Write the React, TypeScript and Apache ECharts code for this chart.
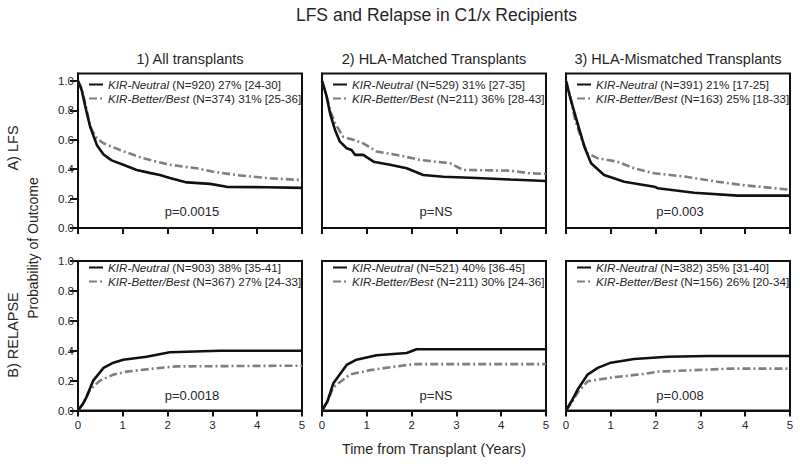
import React, { useEffect, useRef } from 'react';
import * as echarts from 'echarts';

const mainTitle = 'LFS and Relapse in C1/x Recipients';
const panelTitles = ['1) All transplants', '2) HLA-Matched Transplants', '3) HLA-Mismatched Transplants'];
const rowLabels = ['A) LFS', 'B) RELAPSE'];
const yAxisTitle = 'Probability of Outcome';
const xAxisTitle = 'Time from Transplant (Years)';
const xTicks = [0, 1, 2, 3, 4, 5];
const yTicks = [0, 0.2, 0.4, 0.6, 0.8, 1.0];

const groupNames = ['KIR-Neutral', 'KIR-Better/Best'];

// legend details: (N) estimate [CI]
const lfsNeutralInfo = ['(N=920) 27% [24-30]', '(N=529) 31% [27-35]', '(N=391) 21% [17-25]'];
const lfsBetterInfo = ['(N=374) 31% [25-36]', '(N=211) 36% [28-43]', '(N=163) 25% [18-33]'];
const relNeutralInfo = ['(N=903) 38% [35-41]', '(N=521) 40% [36-45]', '(N=382) 35% [31-40]'];
const relBetterInfo = ['(N=367) 27% [24-33]', '(N=211) 30% [24-36]', '(N=156) 26% [20-34]'];
const lfsP = ['p=0.0015', 'p=NS', 'p=0.003'];
const relP = ['p=0.0018', 'p=NS', 'p=0.008'];

const lfsNeutral = [
  [[0, 1], [0.08, 0.94], [0.16, 0.83], [0.23, 0.74], [0.27, 0.69], [0.42, 0.565], [0.57, 0.5], [0.75, 0.46], [1.01, 0.43], [1.31, 0.395], [1.6, 0.375], [1.83, 0.36], [2.05, 0.34], [2.43, 0.31], [2.95, 0.3], [3.32, 0.28], [4.2, 0.277], [5, 0.273]],
  [[0, 1], [0.1, 0.9], [0.18, 0.78], [0.29, 0.667], [0.4, 0.587], [0.55, 0.542], [0.66, 0.53], [0.74, 0.497], [0.92, 0.497], [1.15, 0.451], [1.52, 0.43], [1.89, 0.406], [2.26, 0.36], [2.71, 0.349], [3.45, 0.34], [4.2, 0.33], [5, 0.32]],
  [[0, 1], [0.1, 0.88], [0.26, 0.71], [0.41, 0.553], [0.56, 0.44], [0.85, 0.36], [1.3, 0.315], [1.97, 0.281], [2.05, 0.27], [2.86, 0.24], [3.83, 0.22], [5, 0.22]],
];
const lfsBetter = [
  [[0, 1], [0.08, 0.95], [0.16, 0.85], [0.23, 0.75], [0.3, 0.67], [0.42, 0.61], [0.57, 0.576], [0.94, 0.53], [1.46, 0.474], [2.05, 0.43], [2.65, 0.406], [3.02, 0.383], [3.54, 0.36], [4.29, 0.338], [5, 0.326]],
  [[0, 1], [0.1, 0.9], [0.18, 0.8], [0.29, 0.712], [0.475, 0.62], [0.7, 0.6], [0.92, 0.576], [1.22, 0.52], [1.67, 0.497], [2.19, 0.463], [2.86, 0.44], [3.15, 0.395], [4.2, 0.39], [4.64, 0.372], [5, 0.368]],
  [[0, 1], [0.1, 0.89], [0.2, 0.74], [0.33, 0.62], [0.48, 0.508], [0.71, 0.474], [1.15, 0.451], [1.52, 0.406], [1.97, 0.372], [2.64, 0.35], [3.38, 0.315], [3.98, 0.29], [4.35, 0.28], [5, 0.26]],
];
const relNeutral = [
  [[0, 0], [0.1, 0.04], [0.19, 0.09], [0.34, 0.2], [0.57, 0.285], [0.79, 0.32], [1.01, 0.34], [1.53, 0.36], [2.05, 0.39], [3.16, 0.4], [5, 0.4]],
  [[0, 0], [0.12, 0.06], [0.25, 0.18], [0.55, 0.305], [0.77, 0.34], [1.22, 0.37], [1.89, 0.385], [2.11, 0.41], [3.15, 0.41], [5, 0.41]],
  [[0, 0], [0.12, 0.06], [0.26, 0.14], [0.48, 0.24], [0.71, 0.285], [1.0, 0.32], [1.52, 0.345], [2.27, 0.36], [3.15, 0.365], [5, 0.365]],
];
const relBetter = [
  [[0, 0], [0.12, 0.05], [0.27, 0.14], [0.49, 0.2], [0.79, 0.24], [1.09, 0.26], [1.68, 0.28], [2.2, 0.295], [5, 0.3]],
  [[0, 0], [0.12, 0.06], [0.25, 0.155], [0.62, 0.24], [1.07, 0.27], [1.67, 0.295], [2.04, 0.31], [5, 0.31]],
  [[0, 0], [0.12, 0.05], [0.26, 0.12], [0.48, 0.195], [1.0, 0.22], [1.75, 0.245], [2.05, 0.26], [3.68, 0.28], [5, 0.28]],
];

const FONT = '"Liberation Sans", Arial, Helvetica, sans-serif';
const TEXT = '#262626';
const LEG_FS = 11.7;

export default function App() {
  const ref = useRef<HTMLDivElement>(null);

  useEffect(() => {
    document.body.style.margin = '0';
    if (!ref.current) return;
    const chart = echarts.init(ref.current, undefined, { renderer: 'svg' });

    const lefts = [78, 322, 566];
    const W = 224;
    const rows = [
      { top: 73.6, height: 154.4, max: 1.05, legendTop: 78.5 },
      { top: 261, height: 149.5, max: 1.0, legendTop: 261.5 },
    ];

    const grids: any[] = [];
    const xAxes: any[] = [];
    const yAxes: any[] = [];
    const series: any[] = [];
    const legends: any[] = [];
    const labelMap: Record<string, [string, string]> = {};

    rows.forEach((row, r) => {
      lefts.forEach((left, c) => {
        const idx = r * 3 + c;
        grids.push({
          left, top: row.top, width: W, height: row.height,
          show: true, borderColor: '#111', borderWidth: 2, backgroundColor: 'transparent',
        });
        xAxes.push({
          type: 'value', gridIndex: idx, min: 0, max: 5, interval: 1,
          axisLine: { show: true, lineStyle: { color: '#111', width: 2 } },
          axisTick: { show: true, inside: false, length: 6, lineStyle: { color: '#111', width: 2 } },
          axisLabel: {
            show: r === 1, margin: 8, color: TEXT, fontSize: 11.5, fontFamily: FONT,
            customValues: xTicks,
          },
          splitLine: { show: false },
        });
        yAxes.push({
          type: 'value', gridIndex: idx, min: 0, max: row.max,
          axisLine: { show: true, lineStyle: { color: '#111', width: 2 } },
          axisTick: { show: c === 0, length: 8, lineStyle: { color: '#111', width: 2 }, customValues: yTicks },
          axisLabel: {
            show: c === 0, margin: 4, color: TEXT, fontSize: 11.5, fontFamily: FONT,
            customValues: yTicks, formatter: (v: number) => v.toFixed(1),
          },
          splitLine: { show: false },
        });
        const nData = r === 0 ? lfsNeutral[c] : relNeutral[c];
        const bData = r === 0 ? lfsBetter[c] : relBetter[c];
        const nName = `s${idx}n`;
        const bName = `s${idx}b`;
        labelMap[nName] = [groupNames[0], r === 0 ? lfsNeutralInfo[c] : relNeutralInfo[c]];
        labelMap[bName] = [groupNames[1], r === 0 ? lfsBetterInfo[c] : relBetterInfo[c]];
        series.push({
          name: nName, type: 'line', xAxisIndex: idx, yAxisIndex: idx,
          data: nData, symbol: 'none', showSymbol: false, z: 3,
          lineStyle: { color: '#111', width: 2.6, type: 'solid' },
          itemStyle: { color: '#111' },
        });
        series.push({
          name: bName, type: 'line', xAxisIndex: idx, yAxisIndex: idx,
          data: bData, symbol: 'none', showSymbol: false, z: 2,
          lineStyle: { color: '#7f7f7f', width: 2.6, type: [8, 3, 2, 3] },
          itemStyle: { color: '#7f7f7f' },
        });
        legends.push({
          data: [nName, bName],
          orient: 'vertical',
          left: left + 10,
          top: row.legendTop,
          padding: 0,
          itemGap: 2,
          itemWidth: 14,
          itemHeight: 12,
          selectedMode: false,
          itemStyle: { color: 'transparent', borderWidth: 0, opacity: 0 },
          formatter: (name: string) => `{i|${labelMap[name][0]}}{n| ${labelMap[name][1]}}`,
          textStyle: {
            color: TEXT, fontSize: LEG_FS, fontFamily: FONT,
            rich: {
              i: { fontStyle: 'italic', fontSize: LEG_FS, fontFamily: FONT, color: TEXT, lineHeight: 13 },
              n: { fontSize: LEG_FS, fontFamily: FONT, color: TEXT, lineHeight: 13 },
            },
          },
        });
      });
    });

    const graphics: any[] = [];
    const txt = (text: string, x: number, y: number, size: number, rotation = 0) => ({
      type: 'text', x, y, rotation,
      style: {
        text, fontSize: size, fontFamily: FONT, fill: TEXT,
        align: 'center', verticalAlign: 'middle',
      },
    });
    graphics.push(txt(mainTitle, 436.5, 15, 17.5));
    panelTitles.forEach((t, c) => graphics.push(txt(t, lefts[c] + W / 2, 58.5, 14.5)));
    graphics.push(txt(rowLabels[0], 13, 148, 14.5, Math.PI / 2));
    graphics.push(txt(rowLabels[1], 13, 335, 14.5, Math.PI / 2));
    graphics.push(txt(yAxisTitle, 33, 248, 14, Math.PI / 2));
    graphics.push(txt(xAxisTitle, 434, 449, 14.3));
    lfsP.forEach((p, c) => graphics.push(txt(p, lefts[c] + W / 2 + 2, 211.5, 13)));
    relP.forEach((p, c) => graphics.push(txt(p, lefts[c] + W / 2 + 2, 395, 13)));

    chart.setOption({
      animation: false,
      backgroundColor: '#fff',
      grid: grids,
      xAxis: xAxes,
      yAxis: yAxes,
      series,
      legend: legends,
      graphic: graphics,
    });

    return () => chart.dispose();
  }, []);

  return <div ref={ref} style={{ width: 800, height: 464 }} />;
}
